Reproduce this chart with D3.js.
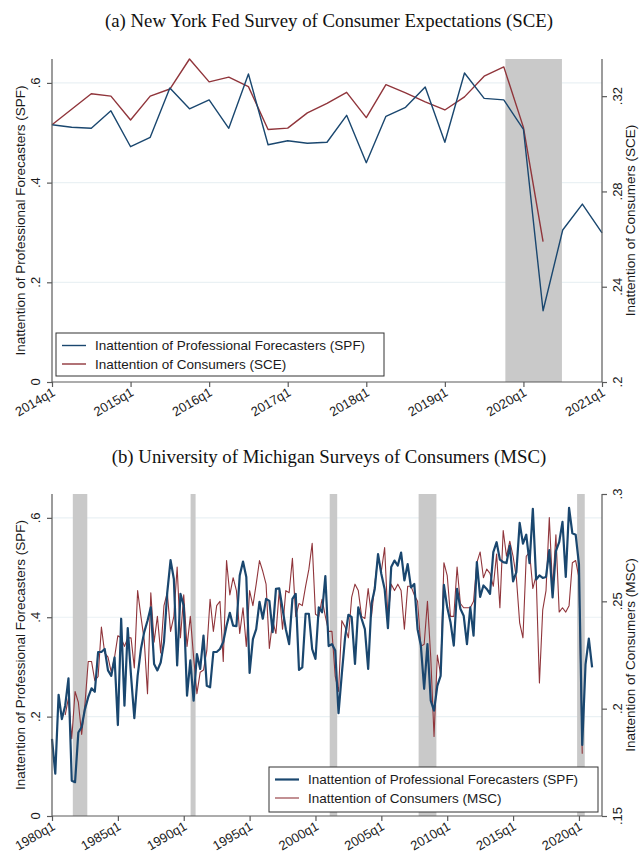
<!DOCTYPE html>
<html>
<head>
<meta charset="utf-8">
<script src="https://cdn.jsdelivr.net/npm/d3@7"></script>
<style>
  html, body { margin: 0; padding: 0; background: #fff; }
  svg { display: block; }
  .tick-label, .axis-title, .legend-text { font-family: "Liberation Sans", Arial, sans-serif; fill: #1a1a1a; }
  .panel-title { font-family: "Liberation Serif", "DejaVu Serif", serif; fill: #111; }
</style>
</head>
<body>
<script>
// ---- Data -------------------------------------------------------------
// Quarterly series start at 1980q1; quarter i sits at year 1980 + i/4.
const spfStart = 1980;
const spf = [
  0.155, 0.085, 0.244, 0.195, 0.222, 0.277, 0.071, 0.068, 0.168, 0.179,
  0.215, 0.239, 0.257, 0.250, 0.330, 0.330, 0.336, 0.293, 0.282, 0.319,
  0.183, 0.397, 0.222, 0.378, 0.282, 0.197, 0.282, 0.336, 0.370, 0.393,
  0.420, 0.306, 0.293, 0.309, 0.350, 0.450, 0.515, 0.477, 0.303, 0.447,
  0.423, 0.242, 0.313, 0.232, 0.326, 0.296, 0.363, 0.262, 0.259, 0.330,
  0.330, 0.336, 0.350, 0.383, 0.409, 0.383, 0.382, 0.484, 0.512, 0.481,
  0.288, 0.356, 0.376, 0.431, 0.397, 0.437, 0.433, 0.370, 0.457, 0.458,
  0.417, 0.376, 0.346, 0.437, 0.447, 0.294, 0.299, 0.407, 0.407, 0.336,
  0.316, 0.420, 0.410, 0.483, 0.342, 0.346, 0.333, 0.207, 0.286, 0.360,
  0.405, 0.400, 0.306, 0.420, 0.397, 0.376, 0.296, 0.427, 0.457, 0.527,
  0.487, 0.457, 0.378, 0.501, 0.514, 0.504, 0.530, 0.474, 0.507, 0.460,
  0.467, 0.376, 0.343, 0.256, 0.346, 0.232, 0.212, 0.262, 0.282, 0.465,
  0.420, 0.390, 0.343, 0.457, 0.417, 0.403, 0.346, 0.420, 0.363, 0.511,
  0.441, 0.464, 0.457, 0.447, 0.531, 0.551,
  0.516, 0.511, 0.509, 0.544, 0.472, 0.491, 0.590, 0.548, 0.566, 0.509,
  0.618, 0.476, 0.484, 0.479, 0.481, 0.535, 0.440, 0.533, 0.551, 0.592,
  0.481, 0.620, 0.569, 0.566, 0.507, 0.143, 0.305, 0.357, 0.299
];

// New York Fed SCE, 2014q1 - 2020q2
const sceStart = 2014;
const sce = [
  0.308, 0.3145, 0.321, 0.320, 0.310, 0.320, 0.323, 0.3356, 0.326, 0.328,
  0.324, 0.306, 0.3066, 0.313, 0.317, 0.3216, 0.311, 0.3248, 0.3214, 0.3176,
  0.3142, 0.3197, 0.3284, 0.3323, 0.3069, 0.2589
];

// Michigan MSC, 1981q1 - 2020q2
const mscStart = 1981;
const msc = [
  0.197, 0.205, 0.186, 0.208, 0.203, 0.188, 0.202, 0.222, 0.222, 0.213,
  0.215, 0.238, 0.226, 0.224, 0.217, 0.224, 0.234, 0.233, 0.229, 0.233,
  0.233, 0.219, 0.255, 0.243, 0.232, 0.207, 0.254, 0.231, 0.243, 0.226,
  0.248, 0.254, 0.236, 0.243, 0.266, 0.233, 0.253, 0.229, 0.243, 0.224,
  0.207, 0.217, 0.218, 0.227, 0.251, 0.236, 0.248, 0.250, 0.222, 0.269,
  0.253, 0.261, 0.255, 0.235, 0.247, 0.229, 0.255, 0.248, 0.258, 0.269,
  0.264, 0.258, 0.228, 0.241, 0.235, 0.255, 0.237, 0.255, 0.254, 0.270,
  0.243, 0.249, 0.248, 0.257, 0.265, 0.277, 0.244, 0.243, 0.251, 0.243,
  0.236, 0.236, 0.215, 0.208, 0.241, 0.238, 0.233, 0.252, 0.258, 0.255,
  0.243, 0.242, 0.256, 0.243, 0.258, 0.271, 0.264, 0.275, 0.242, 0.258,
  0.255, 0.258, 0.255, 0.237, 0.257, 0.257, 0.253, 0.250, 0.229, 0.230,
  0.250, 0.224, 0.187, 0.225, 0.216, 0.268, 0.262, 0.243, 0.243, 0.266,
  0.249, 0.247, 0.247, 0.247, 0.250, 0.268, 0.273, 0.261, 0.265, 0.263,
  0.257, 0.272, 0.247, 0.283, 0.271, 0.278, 0.271, 0.261, 0.240, 0.233,
  0.271, 0.273, 0.256, 0.262, 0.212, 0.246, 0.255, 0.289, 0.256, 0.281,
  0.245, 0.247, 0.245, 0.248, 0.268, 0.269, 0.261, 0.179
];

// Shaded recession periods (decimal years)
const recessionsSCE = [[2019.77, 2020.49]];
const recessionsMSC = [[1981.58, 1982.68], [1990.52, 1990.9], [2001.08, 2001.65], [2007.83, 2009.18], [2019.86, 2020.44]];

// Axis ticks
const spfTicks = [0, 0.2, 0.4, 0.6];
const sceTicks = [0.2, 0.24, 0.28, 0.32];
const mscTicks = [0.15, 0.2, 0.25, 0.3];
const sceYears = [2014, 2015, 2016, 2017, 2018, 2019, 2020, 2021];
const mscYears = [1980, 1985, 1990, 1995, 2000, 2005, 2010, 2015, 2020];

const titles = [
  "(a) New York Fed Survey of Consumer Expectations (SCE)",
  "(b) University of Michigan Surveys of Consumers (MSC)"
];
const legendSPF = "Inattention of Professional Forecasters (SPF)";

// ---- Drawing ----------------------------------------------------------
const W = 639, H = 852;
const svg = d3.select("body").append("svg").attr("width", W).attr("height", H);

const BLUE = "#1a476f", RED = "#90353b", AXIS = "#5a5a5a", GRID = "#eaf1f4", SHADE = "#c9c9c9";
const fmt = v => { const s = d3.format("")(+v.toFixed(3)); return s === "0" ? "0" : s.replace(/^0/, ""); };
const toSeries = (vals, start) => vals.map((v, i) => ({ t: start + i / 4, v }));

function panel(cfg) {
  const g = svg.append("g");
  const x = d3.scaleLinear().domain(cfg.xDomain).range([cfg.left, cfg.right]);
  const yL = d3.scaleLinear().domain(cfg.yLeft).range([cfg.bottom, cfg.top]);
  const yR = d3.scaleLinear().domain(cfg.yRight).range([cfg.bottom, cfg.top]);

  // title
  g.append("text").attr("class", "panel-title")
    .attr("x", (cfg.left + cfg.right) / 2 + 2).attr("y", cfg.titleY)
    .attr("text-anchor", "middle").attr("font-size", 18.8).text(cfg.title);

  // grid lines
  g.selectAll(".grid").data(spfTicks.filter(d => d > 0)).join("line")
    .attr("x1", cfg.left).attr("x2", cfg.right)
    .attr("y1", d => yL(d)).attr("y2", d => yL(d))
    .attr("stroke", GRID).attr("stroke-width", 1.2);

  // recession shading
  g.selectAll(".rec").data(cfg.recessions).join("rect")
    .attr("x", d => x(d[0])).attr("width", d => x(d[1]) - x(d[0]))
    .attr("y", cfg.top).attr("height", cfg.bottom - cfg.top)
    .attr("fill", SHADE);

  // series
  const line = sc => d3.line().x(d => x(d.t)).y(d => sc(d.v));
  g.append("path").datum(cfg.redData).attr("d", line(yR))
    .attr("fill", "none").attr("stroke", RED).attr("stroke-width", cfg.redW).attr("stroke-linejoin", "round");
  g.append("path").datum(cfg.blueData).attr("d", line(yL))
    .attr("fill", "none").attr("stroke", BLUE).attr("stroke-width", cfg.blueW).attr("stroke-linejoin", "round");

  // left axis
  const la = g.append("g").attr("transform", `translate(${cfg.left},0)`)
    .call(d3.axisLeft(yL).tickValues(spfTicks).tickSize(5).tickFormat(""));
  la.select(".domain").attr("d", `M0,${cfg.top}V${cfg.bottom}`);
  la.selectAll("line, path").attr("stroke", AXIS).attr("stroke-width", 1.2);
  g.selectAll(".ylab").data(spfTicks).join("text").attr("class", "tick-label")
    .attr("font-size", 13).attr("text-anchor", "middle")
    .attr("transform", d => `translate(${cfg.left - 12},${yL(d)}) rotate(-90)`).text(fmt);

  // right axis
  const ra = g.append("g").attr("transform", `translate(${cfg.right},0)`)
    .call(d3.axisRight(yR).tickValues(cfg.rightTicks).tickSize(5).tickFormat(""));
  ra.select(".domain").attr("d", `M0,${cfg.top}V${cfg.bottom}`);
  ra.selectAll("line, path").attr("stroke", AXIS).attr("stroke-width", 1.2);
  g.selectAll(".rlab").data(cfg.rightTicks).join("text").attr("class", "tick-label")
    .attr("font-size", 13).attr("text-anchor", "middle")
    .attr("transform", d => `translate(${cfg.right + 20},${yR(d)}) rotate(-90)`).text(fmt);

  // bottom axis
  const ba = g.append("g").attr("transform", `translate(0,${cfg.bottom})`)
    .call(d3.axisBottom(x).tickValues(cfg.years).tickSize(5).tickFormat(""));
  ba.select(".domain").attr("d", `M${cfg.left},0H${cfg.right}`);
  ba.selectAll("line, path").attr("stroke", AXIS).attr("stroke-width", 1.2);
  g.selectAll(".xlab").data(cfg.years).join("text").attr("class", "tick-label")
    .attr("font-size", 13).attr("text-anchor", "end")
    .attr("transform", d => `translate(${x(d) + 4},${cfg.bottom + 13}) rotate(-30)`)
    .text(d => d + "q1");

  // axis titles
  const midY = (cfg.top + cfg.bottom) / 2;
  g.append("text").attr("class", "axis-title").attr("font-size", 13.5).attr("text-anchor", "middle")
    .attr("transform", `translate(25,${midY}) rotate(-90)`).text(legendSPF);
  g.append("text").attr("class", "axis-title").attr("font-size", 13.5).attr("text-anchor", "middle")
    .attr("transform", `translate(635,${midY}) rotate(-90)`).text(cfg.rightTitle);

  // legend
  const L = cfg.legend;
  g.append("rect").attr("x", L.x).attr("y", L.y).attr("width", L.w).attr("height", L.h)
    .attr("fill", "#fff").attr("stroke", "#333").attr("stroke-width", 1);
  const items = [
    { label: legendSPF, color: BLUE, w: cfg.blueW },
    { label: cfg.rightTitle, color: RED, w: cfg.redW }
  ];
  items.forEach((it, i) => {
    const yy = L.y + 12.5 + i * 18.5;
    g.append("line").attr("x1", L.x + 6).attr("x2", L.x + 30).attr("y1", yy).attr("y2", yy)
      .attr("stroke", it.color).attr("stroke-width", it.w);
    g.append("text").attr("class", "legend-text").attr("font-size", 13.5)
      .attr("x", L.x + 39).attr("y", yy).attr("dy", "0.36em").text(it.label);
  });
}

const spfSeries = toSeries(spf, spfStart);

panel({
  title: titles[0], titleY: 27,
  left: 52, right: 602, top: 59, bottom: 382,
  xDomain: [2014, 2021], yLeft: [0, 0.648], yRight: [0.2, 0.3356],
  rightTicks: sceTicks, years: sceYears,
  recessions: recessionsSCE,
  blueData: spfSeries.filter(d => d.t >= 2014 - 1e-9),
  redData: toSeries(sce, sceStart),
  blueW: 1.4, redW: 1.4,
  rightTitle: "Inattention of Consumers (SCE)",
  legend: { x: 56, y: 333, w: 328, h: 43 }
});

panel({
  title: titles[1], titleY: 463,
  left: 52, right: 602, top: 494, bottom: 816,
  xDomain: [1980, 2021.75], yLeft: [0, 0.648], yRight: [0.15, 0.30],
  rightTicks: mscTicks, years: mscYears,
  recessions: recessionsMSC,
  blueData: spfSeries,
  redData: toSeries(msc, mscStart),
  blueW: 2.2, redW: 1.1,
  rightTitle: "Inattention of Consumers (MSC)",
  legend: { x: 269, y: 767, w: 329, h: 45 }
});
</script>
</body>
</html>
